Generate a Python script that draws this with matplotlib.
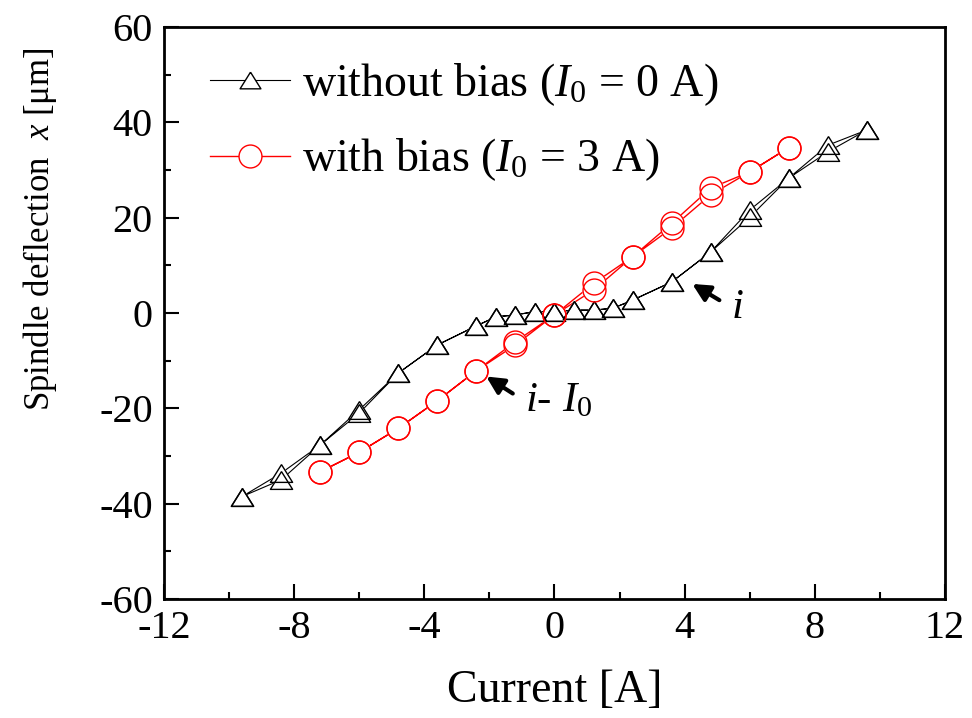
import matplotlib
matplotlib.use("Agg")
import matplotlib.pyplot as plt
from matplotlib.lines import Line2D
from matplotlib.ticker import MultipleLocator

plt.rcParams['font.family'] = ['Liberation Serif', 'DejaVu Serif']
plt.rcParams['mathtext.fontset'] = 'custom'
plt.rcParams['mathtext.rm'] = 'Liberation Serif'
plt.rcParams['mathtext.it'] = 'Liberation Serif:italic'
plt.rcParams['axes.unicode_minus'] = False

# without bias (I0 = 0 A): loop, up branch then down branch
x_black = [-9.6, -8.4, -7.2, -6.0, -4.8, -3.6, -2.4, -1.8, -1.2, -0.6, 0.0,
           0.6, 1.2, 1.8, 2.4, 3.6, 4.8, 6.0, 7.2, 8.4, 9.6]
black_up = [-38.5, -35.0, -27.7, -21.0, -12.6, -6.7, -2.7, -0.8, -0.4, 0.3, 0.3,
            0.6, 0.6, 1.0, 2.7, 6.5, 12.8, 20.1, 28.3, 33.8, 38.4]
black_down = [-38.5, -33.6, -27.7, -20.3, -12.6, -6.7, -2.7, -0.8, -0.4, 0.3, 0.3,
              0.6, 0.6, 1.0, 2.7, 6.5, 12.8, 21.6, 28.3, 35.2, 38.4]

# with bias (I0 = 3 A)
x_red = [-7.2, -6.0, -4.8, -3.6, -2.4, -1.2, 0.0, 1.2, 2.4, 3.6, 4.8, 6.0, 7.2]
red_up = [-33.3, -29.2, -24.2, -18.4, -12.1, -6.7, -0.4, 4.8, 11.8, 17.8, 24.8, 29.6, 34.7]
red_down = [-33.3, -29.2, -24.2, -18.4, -12.1, -6.0, -0.4, 6.2, 11.8, 18.8, 26.2, 29.6, 34.7]

tri = [(0, 0.8), (-1, -0.8), (1, -0.8), (0, 0.8)]

fig = plt.figure(figsize=(9.72, 7.18), dpi=100)
ax = fig.add_axes([0.1687, 0.1657, 0.8035, 0.7967])

xb = x_black + x_black[::-1]
yb = black_up + black_down[::-1]
xr = x_red + x_red[::-1]
yr = red_up + red_down[::-1]

ax.plot(xb, yb, color='black', lw=0.8, zorder=2)
ax.plot(xr, yr, color='red', lw=1.0, zorder=2)
# white fill to cut the lines inside markers
ax.plot(xb, yb, ls='none', marker=tri, ms=16, mfc='white', mec='white', mew=1, zorder=3)
ax.plot(xr, yr, ls='none', marker='o', ms=16.5, mfc='white', mec='white', mew=1, zorder=3)
ax.plot(xb, yb, ls='none', marker=tri, ms=16, mfc='none', mec='black', mew=1.0, zorder=4)
ax.plot(xr, yr, ls='none', marker='o', ms=16.5, mfc='none', mec='red', mew=1.0, zorder=4)

ax.set_xlim(-12, 12)
ax.set_ylim(-60, 60)
ax.xaxis.set_major_locator(MultipleLocator(4))
ax.xaxis.set_minor_locator(MultipleLocator(2))
ax.yaxis.set_major_locator(MultipleLocator(20))
ax.yaxis.set_minor_locator(MultipleLocator(10))
ax.tick_params(which='both', direction='in', top=False, right=False, width=1.5,
               labelsize=29)
ax.tick_params(which='major', length=11, pad=8)
ax.tick_params(which='minor', length=5)
for s in ax.spines.values():
    s.set_linewidth(2)

ax.set_xlabel('Current [A]', fontsize=33, labelpad=16)
ax.set_ylabel('Spindle deflection  $x$ [μm]', fontsize=25)
ax.yaxis.set_label_coords(-0.135, 0.647)

h1 = Line2D([], [], color='black', lw=0.8, marker=tri, ms=15, mfc='white', mec='black', mew=1)
h2 = Line2D([], [], color='red', lw=1.0, marker='o', ms=16.5, mfc='white', mec='red', mew=1)
ax.legend([h1, h2], ['without bias ($I_0$ = 0 A)', 'with bias ($I_0$ = 3 A)'],
          loc='upper left', bbox_to_anchor=(0.059, 0.94), frameon=False,
          fontsize=33, handlelength=1.75, handletextpad=0.25, labelspacing=0.62,
          borderaxespad=0, borderpad=0)

ax.annotate('', xy=(4.16, 6.4), xytext=(5.14, 2.4),
            arrowprops=dict(arrowstyle='-|>', color='black', lw=3, mutation_scale=26))
ax.text(5.61, 1.0, '$i$', fontsize=31, ha='center', va='center')
ax.annotate('', xy=(-2.17, -13.0), xytext=(-1.21, -17.2),
            arrowprops=dict(arrowstyle='-|>', color='black', lw=3, mutation_scale=26))
ax.text(-0.9, -18.4, '$i$- $I_0$', fontsize=31, ha='left', va='center')

fig.savefig('out.png', dpi=100)
